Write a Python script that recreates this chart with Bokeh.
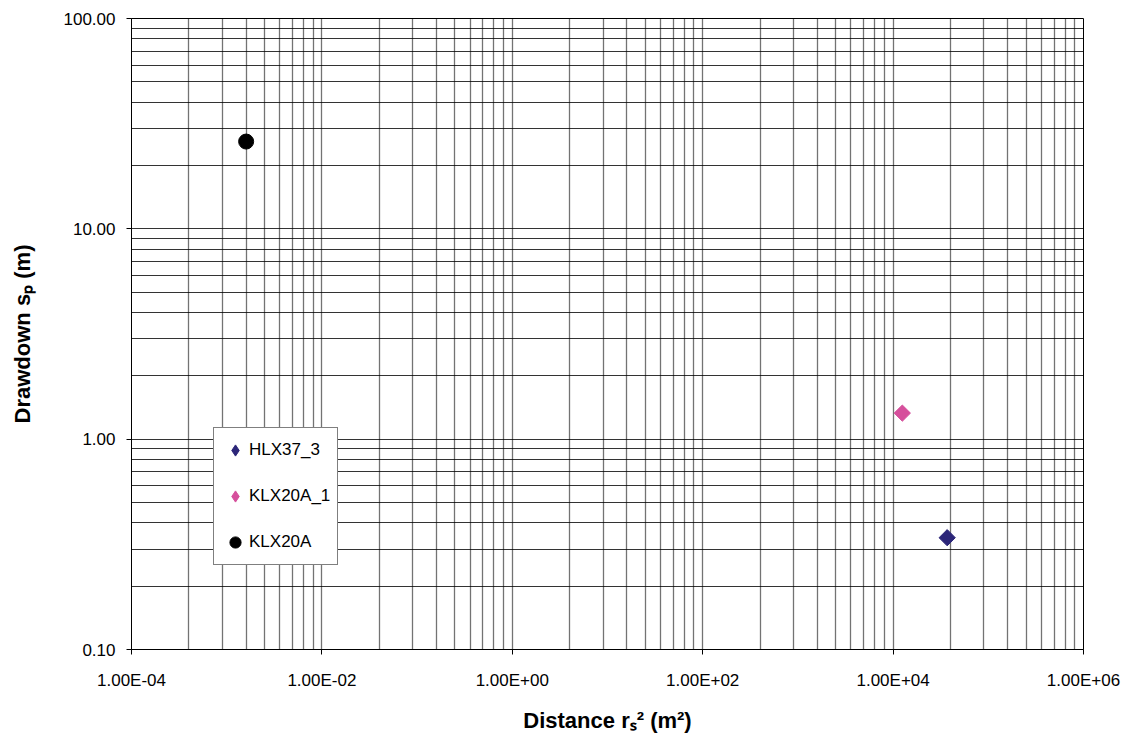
import math
from bokeh.plotting import figure
from bokeh.models import (Range1d, FixedTicker, CustomJSTickFormatter,
                          Legend, LegendItem)
from bokeh.embed import file_html
from bokeh.resources import INLINE

# ---- data -------------------------------------------------------------
series_names = ["HLX37_3", "KLX20A_1", "KLX20A"]
hlx37_3_x = [3.7e4]
hlx37_3_y = [0.34]
klx20a_1_x = [1.25e4]
klx20a_1_y = [1.33]
klx20a_x = [1.6e-3]
klx20a_y = [26.0]

x_major_ticks = [1e-4, 1e-2, 1e0, 1e2, 1e4, 1e6]
x_minor_ticks = [k * k * 10.0 ** e for e in (-4, -2, 0, 2, 4) for k in range(2, 10)]
y_major_ticks = [0.1, 1.0, 10.0, 100.0]
y_minor_ticks = [k * 10.0 ** e for e in (-1, 0, 1) for k in range(2, 10)]

x_title = "Distance r\u209b\u00b2 (m\u00b2)"
y_title = "Drawdown s\u209a (m)"

FONT = "Liberation Sans"
NAVY = "#2C2679"
PINK = "#D64F9C"

p = figure(width=1125, height=736, x_axis_type="log", y_axis_type="log",
           x_range=Range1d(1e-4, 1e6), y_range=Range1d(0.1, 100),
           min_border_left=131, min_border_right=42, min_border_top=18,
           min_border_bottom=87, output_backend="svg", toolbar_location=None)
p.background_fill_color = "white"
p.border_fill_color = "white"
p.outline_line_color = "black"
p.outline_line_width = 1

# axes
for ax in (p.xaxis[0], p.yaxis[0]):
    ax.axis_line_color = "black"
    ax.major_tick_in = 0
    ax.major_tick_out = 5
    ax.major_tick_line_color = "black"
    ax.minor_tick_in = 0
    ax.minor_tick_out = 0
    ax.major_label_text_font = FONT
    ax.major_label_text_font_size = "17px"
    ax.major_label_text_color = "black"
    ax.axis_label_text_font = FONT
    ax.axis_label_text_font_size = "22px"
    ax.axis_label_text_font_style = "bold"
    ax.axis_label_text_color = "black"

p.xaxis[0].axis_label = x_title
p.xaxis[0].axis_label_standoff = 15
p.yaxis[0].axis_label = y_title
p.yaxis[0].axis_label_standoff = 26

p.xaxis[0].ticker = FixedTicker(ticks=x_major_ticks, minor_ticks=[])
p.yaxis[0].ticker = FixedTicker(ticks=y_major_ticks, minor_ticks=[])
p.xaxis[0].major_label_standoff = 16
p.yaxis[0].major_label_standoff = 11
p.xaxis[0].formatter = CustomJSTickFormatter(code="""
const e = Math.round(Math.log10(tick));
const m = tick / Math.pow(10, e);
const s = e < 0 ? '-' : '+';
const a = Math.abs(e);
return m.toFixed(2) + 'E' + s + (a < 10 ? '0' + a : '' + a);
""")
p.yaxis[0].formatter = CustomJSTickFormatter(code="return tick.toFixed(2);")

# grids
p.xgrid[0].ticker = FixedTicker(ticks=x_major_ticks, minor_ticks=x_minor_ticks)
p.ygrid[0].ticker = FixedTicker(ticks=y_major_ticks, minor_ticks=y_minor_ticks)
for g, a, w in ((p.xgrid[0], 0.55, 1.3), (p.ygrid[0], 0.8, 1.0)):
    g.grid_line_color = "#000000"
    g.grid_line_alpha = a
    g.grid_line_width = w
    g.minor_grid_line_color = "#000000"
    g.minor_grid_line_alpha = a
    g.minor_grid_line_width = w

# series: a diamond key glyph (used by the legend) covered by a 45-degree square
k1 = p.scatter(hlx37_3_x, hlx37_3_y, marker="diamond", size=10,
               fill_color=NAVY, line_color=NAVY)
k2 = p.scatter(klx20a_1_x, klx20a_1_y, marker="diamond", size=10,
               fill_color=PINK, line_color=PINK)
p.scatter(hlx37_3_x, hlx37_3_y, marker="square", size=11.5, angle=math.pi / 4,
          fill_color=NAVY, line_color=NAVY)
p.scatter(klx20a_1_x, klx20a_1_y, marker="square", size=11.5, angle=math.pi / 4,
          fill_color=PINK, line_color=PINK)
r3 = p.scatter(klx20a_x, klx20a_y, marker="circle", size=15,
               fill_color="black", line_color="black")

legend = Legend(items=[LegendItem(label=series_names[0], renderers=[k1]),
                       LegendItem(label=series_names[1], renderers=[k2]),
                       LegendItem(label=series_names[2], renderers=[r3])],
                location=(82, 84))
legend.label_text_font = FONT
legend.label_text_font_size = "17px"
legend.label_text_color = "black"
legend.glyph_width = 28
legend.glyph_height = 30
legend.label_height = 30
legend.spacing = 16
legend.padding = 7
legend.margin = 0
legend.label_standoff = 0
legend.border_line_color = "black"
legend.border_line_width = 1
legend.background_fill_color = "white"
legend.background_fill_alpha = 1
p.add_layout(legend, "center")

open("out.html", "w").write(file_html(p, INLINE))
